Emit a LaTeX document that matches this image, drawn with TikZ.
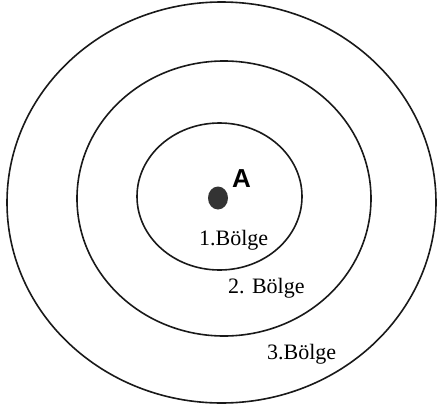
\documentclass[tikz,border=0pt]{standalone}
\usepackage{fontspec}
\setmainfont{Liberation Serif}
\newfontfamily\labelsans{Liberation Sans}
\usepackage{tikz}
\tikzstyle{wave} = [line width=1.6pt, draw=black!90]
\tikzstyle{wavelabel} = [anchor=base west, inner sep=0pt, font=\fontsize{22}{26}\selectfont]
\tikzstyle{source} = [anchor=base west, inner sep=0pt, font=\labelsans\bfseries\fontsize{26}{30}\selectfont]

\begin{document}
\begin{tikzpicture}[x=1pt, y=-1pt]

        \useasboundingbox (0,0) rectangle (437,407);

        \draw [wave] (221.5,202.5) ellipse [x radius=214.5, y radius=200.5];
        \draw [wave] (224,198.5) ellipse [x radius=147, y radius=137.5];
        \draw [wave] (219.5,196.5) ellipse [x radius=82.5, y radius=73.5];

        \fill [black!80] (218,198) ellipse [x radius=10, y radius=11.5];

        \node (a) [source] at (232,187) {A};
        \node (w1) [wavelabel] at (199,245) {1.Bölge};
        \node (w2) [wavelabel] at (228,293) {2. Bölge};
        \node (w3) [wavelabel] at (267,359) {3.Bölge};

    \end{tikzpicture}
\end{document}
